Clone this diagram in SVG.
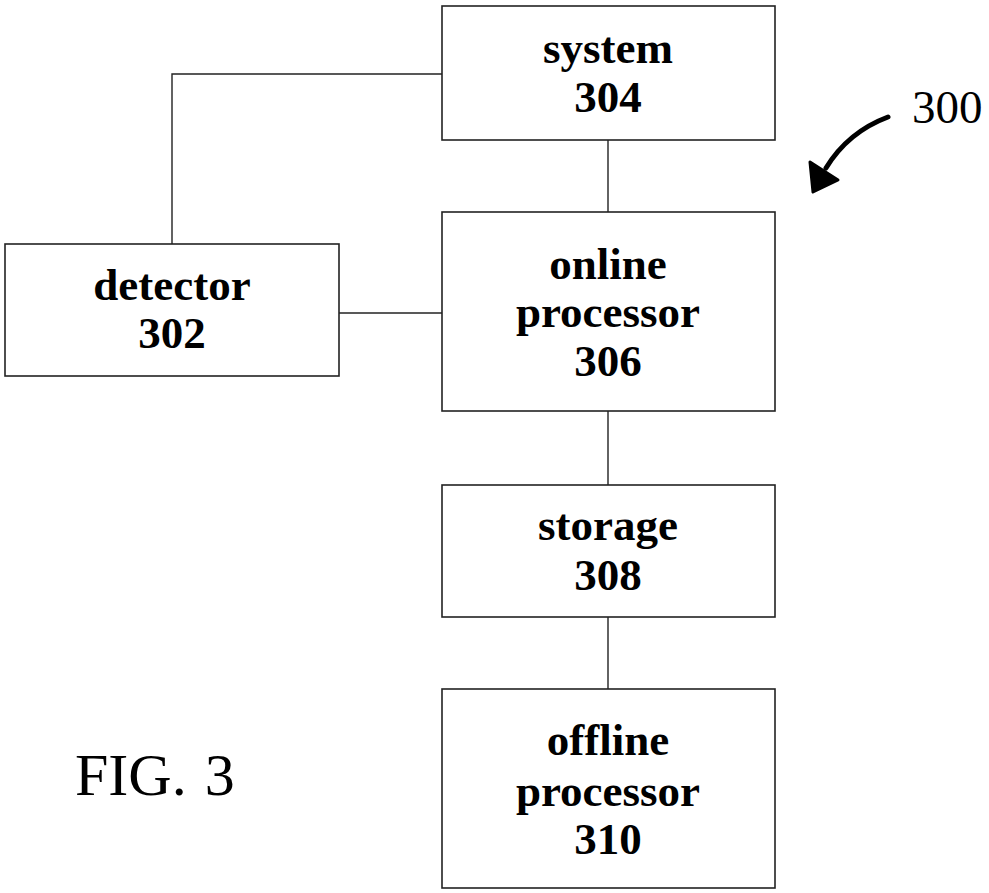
<svg xmlns="http://www.w3.org/2000/svg" width="989" height="893" viewBox="0 0 989 893">
<style>
.box{fill:#fff;stroke:#222;stroke-width:1.6}
.lbl{font-family:"Liberation Serif","Times New Roman",serif;font-weight:bold;font-size:45px;fill:#000;text-anchor:middle}
.con{fill:none;stroke:#222;stroke-width:1.4}
.ref{font-family:"Liberation Serif","Times New Roman",serif;fill:#000}
</style>
<rect width="989" height="893" fill="#fff"/>
<g id="connectors">
<polyline class="con" points="442,74 172,74 172,244"/>
<line class="con" x1="608" y1="140" x2="608" y2="212"/>
<line class="con" x1="339" y1="313" x2="442" y2="313"/>
<line class="con" x1="608" y1="411" x2="608" y2="485"/>
<line class="con" x1="608" y1="617" x2="608" y2="689"/>
</g>
<g id="n304">
<rect class="box" x="442" y="6" width="333" height="134"/>
<text class="lbl" x="608" y="63">system</text>
<text class="lbl" x="608" y="112">304</text>
</g>
<g id="n302">
<rect class="box" x="5" y="244" width="334" height="132"/>
<text class="lbl" x="172" y="300">detector</text>
<text class="lbl" x="172" y="348">302</text>
</g>
<g id="n306">
<rect class="box" x="442" y="212" width="333" height="199"/>
<text class="lbl" x="608" y="279">online</text>
<text class="lbl" x="608" y="327">processor</text>
<text class="lbl" x="608" y="376">306</text>
</g>
<g id="n308">
<rect class="box" x="442" y="485" width="333" height="132"/>
<text class="lbl" x="608" y="540">storage</text>
<text class="lbl" x="608" y="590">308</text>
</g>
<g id="n310">
<rect class="box" x="442" y="689" width="333" height="199"/>
<text class="lbl" x="608" y="755">offline</text>
<text class="lbl" x="608" y="806">processor</text>
<text class="lbl" x="608" y="854">310</text>
</g>
<g id="ref300">
<text class="ref" x="912" y="123" font-size="47">300</text>
<path d="M888 117 Q848 132 826 168" fill="none" stroke="#000" stroke-width="5" stroke-linecap="round"/>
<polygon points="810,162 838,180 813,192" fill="#000" stroke="#000" stroke-width="3" stroke-linejoin="round"/>
</g>
<text class="ref" x="75" y="795" font-size="60">FIG.<tspan dx="18">3</tspan></text>
</svg>
